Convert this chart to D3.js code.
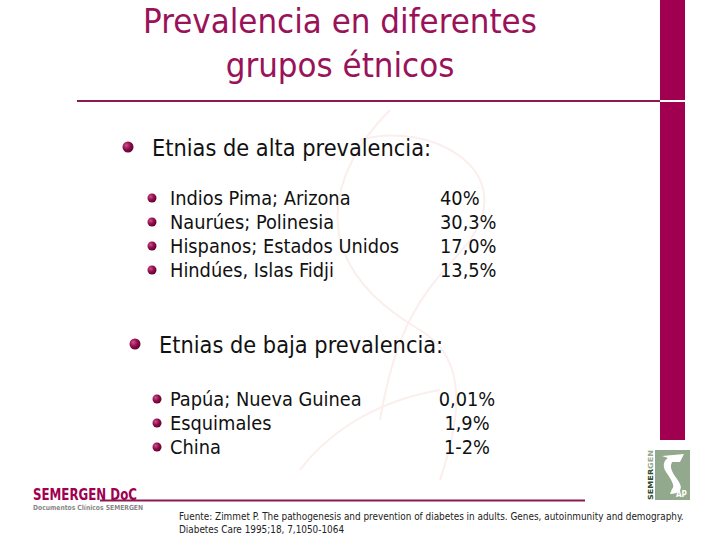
<!DOCTYPE html>
<html>
<head>
<meta charset="utf-8">
<script src="https://cdn.jsdelivr.net/npm/d3@7"></script>
<style>
  html, body { margin: 0; padding: 0; background: #fff; }
  svg { display: block; }
</style>
</head>
<body>
<div id="slide"></div>
<script>
'use strict';

// slide text
var titleLines = ['Prevalencia en diferentes', 'grupos étnicos'];
var sectionNames = ['Etnias de alta prevalencia:', 'Etnias de baja prevalencia:'];

// high prevalence groups
var highGroups = ['Indios Pima; Arizona', 'Naurúes; Polinesia', 'Hispanos; Estados Unidos', 'Hindúes, Islas Fidji'];
var highValues = ['40%', '30,3%', '17,0%', '13,5%'];

// low prevalence groups
var lowGroups = ['Papúa; Nueva Guinea', 'Esquimales', 'China'];
var lowValues = ['0,01%', '1,9%', '1-2%'];

var sourceLines = [
    'Fuente: Zimmet P. The pathogenesis and prevention of diabetes in adults. Genes, autoinmunity and demography.',
    'Diabetes Care 1995;18, 7,1050-1064'
];

(function() {
    var width = 720, height = 540;
    var plum = '#a0004f';
    var font = 'Tahoma, "DejaVu Sans Condensed", "DejaVu Sans", sans-serif';

    var svg = d3.select('#slide').append('svg')
        .attr('width', width)
        .attr('height', height)
        .style('font-family', font);

    // bullet gradient
    var defs = svg.append('defs');
    var grad = defs.append('radialGradient').attr('id', 'dot')
        .attr('cx', '35%').attr('cy', '35%').attr('r', '70%');
    grad.append('stop').attr('offset', '0%').attr('stop-color', '#d0508a');
    grad.append('stop').attr('offset', '55%').attr('stop-color', '#8c0a48');
    grad.append('stop').attr('offset', '100%').attr('stop-color', '#5a0530');

    // faint watermark curves
    var wm = svg.append('g').attr('fill', 'none').attr('stroke', '#fbeeec').attr('stroke-width', 2);
    wm.append('path').attr('d', 'M390,110 C330,170 300,260 420,330 C470,360 460,420 440,480');
    wm.append('path').attr('d', 'M360,140 C430,120 520,170 470,240 C440,280 400,300 380,420');
    wm.append('path').attr('d', 'M300,470 C330,430 380,400 440,390');

    // right band with small gap at the rule
    svg.append('rect').attr('x', 660).attr('y', 0).attr('width', 25).attr('height', 100).attr('fill', plum);
    svg.append('rect').attr('x', 660).attr('y', 102).attr('width', 25).attr('height', 338).attr('fill', plum);

    // title
    svg.append('g').selectAll('text')
        .data(titleLines)
        .join('text')
        .attr('x', 340)
        .attr('y', function(d, i) { return 33 + i * 44; })
        .attr('text-anchor', 'middle')
        .attr('fill', '#9a1259')
        .style('font-size', '34.5px')
        .text(function(d) { return d; });

    svg.append('line')
        .attr('x1', 77).attr('x2', 660)
        .attr('y1', 101).attr('y2', 101)
        .attr('stroke', '#8c1a52').attr('stroke-width', 2);

    // one block of bullets
    function drawSection(name, groups, values, opts) {
        var g = svg.append('g');

        g.append('circle')
            .attr('cx', opts.headX - 24).attr('cy', opts.headY - 9)
            .attr('r', 5.5).attr('fill', 'url(#dot)');
        g.append('text')
            .attr('x', opts.headX).attr('y', opts.headY)
            .style('font-size', '23.3px')
            .attr('fill', '#111')
            .text(name);

        var y = d3.scalePoint()
            .domain(groups)
            .range([opts.rowY, opts.rowY + (groups.length - 1) * 24]);

        var rows = g.selectAll('g.row')
            .data(groups)
            .join('g')
            .attr('class', 'row')
            .attr('transform', function(d) { return 'translate(0,' + y(d) + ')'; });

        rows.append('circle')
            .attr('cx', opts.dotX).attr('cy', -7)
            .attr('r', 4.5).attr('fill', 'url(#dot)');
        rows.append('text')
            .attr('x', 170)
            .style('font-size', '19.8px')
            .attr('fill', '#111')
            .text(function(d) { return d; });
        rows.append('text')
            .attr('x', opts.valX)
            .attr('text-anchor', opts.valAnchor)
            .style('font-size', '19.8px')
            .attr('fill', '#111')
            .text(function(d, i) { return values[i]; });
    }

    drawSection(sectionNames[0], highGroups, highValues,
        { headX: 152, headY: 156, rowY: 205, dotX: 152, valX: 440, valAnchor: 'start' });
    drawSection(sectionNames[1], lowGroups, lowValues,
        { headX: 159, headY: 353, rowY: 406, dotX: 157, valX: 467, valAnchor: 'middle' });

    // SEMERGEN DoC logo, lower left
    var logo = svg.append('g');
    logo.append('text')
        .attr('x', 33).attr('y', 500)
        .attr('fill', '#a0004f')
        .style('font-size', '15px')
        .style('font-weight', 'bold')
        .attr('textLength', 104).attr('lengthAdjust', 'spacingAndGlyphs')
        .text('SEMERGEN DoC');
    logo.append('line')
        .attr('x1', 100).attr('x2', 585)
        .attr('y1', 500.5).attr('y2', 500.5)
        .attr('stroke', '#8c1a52').attr('stroke-width', 2);
    logo.append('text')
        .attr('x', 33).attr('y', 510)
        .attr('fill', '#888')
        .style('font-size', '7px')
        .style('font-weight', 'bold')
        .attr('textLength', 110).attr('lengthAdjust', 'spacingAndGlyphs')
        .text('Documentos Clínicos SEMERGEN');

    // source note
    svg.append('g').selectAll('text')
        .data(sourceLines)
        .join('text')
        .attr('x', 179)
        .attr('y', function(d, i) { return 520 + i * 13; })
        .attr('fill', '#222')
        .style('font-size', '9.9px')
        .text(function(d) { return d; });

    // SEMERGEN AP logo, lower right
    var ap = svg.append('g');
    ap.append('rect').attr('x', 655).attr('y', 450).attr('width', 35).attr('height', 50).attr('fill', '#93a98e');
    ap.append('path')
        .attr('d', 'M662,456 L684,454 L680,462 L672,462 C668,470 676,476 680,484 C683,490 678,494 670,494 L672,489 C676,486 670,478 666,472 C662,466 664,460 668,458 Z')
        .attr('fill', '#fff');
    ap.append('text')
        .attr('x', 676).attr('y', 497)
        .attr('fill', '#fff')
        .style('font-size', '8px')
        .style('font-weight', 'bold')
        .text('AP');
    var vt = ap.append('text')
        .attr('transform', 'translate(653,500) rotate(-90)')
        .style('font-size', '7px')
        .style('font-weight', 'bold')
        .attr('textLength', 50).attr('lengthAdjust', 'spacingAndGlyphs');
    vt.append('tspan').attr('fill', '#2f4a2c').text('SEMER');
    vt.append('tspan').attr('fill', '#93a98e').text('GEN');
})();
</script>
</body>
</html>
